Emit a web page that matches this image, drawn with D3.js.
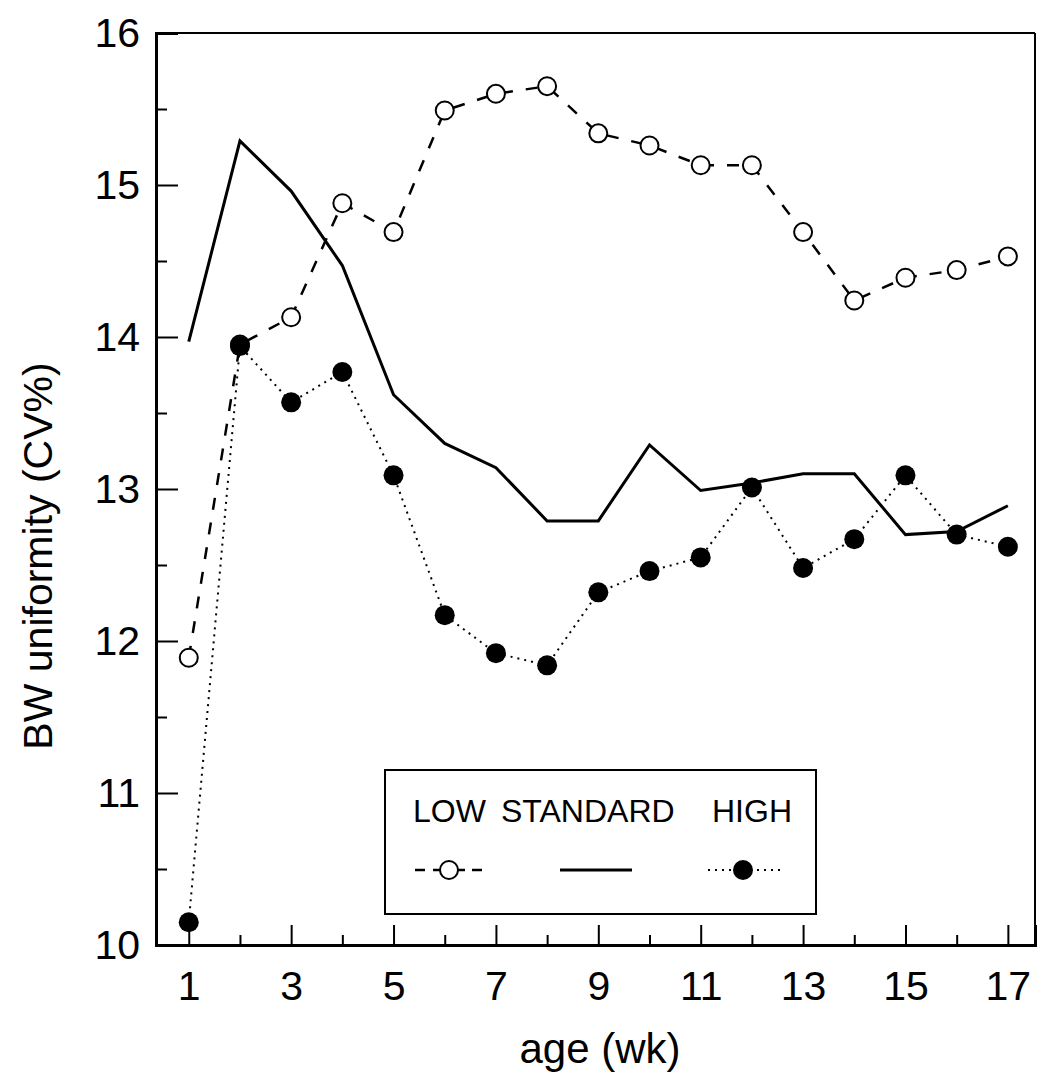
<!DOCTYPE html>
<html lang="en">
<head>
<meta charset="UTF-8">
<title>BW uniformity by age</title>
<script src="https://cdn.jsdelivr.net/npm/d3@7"></script>
<style>
  body { margin: 0; background: #fff; }
  svg text { font-family: "Liberation Sans", Arial, sans-serif; fill: #000; }
</style>
</head>
<body>
<script>
// data
const weeks = [1, 2, 3, 4, 5, 6, 7, 8, 9, 10, 11, 12, 13, 14, 15, 16, 17];
const lowCV = [11.89, 13.95, 14.13, 14.88, 14.69, 15.49, 15.60, 15.65, 15.34, 15.26, 15.13, 15.13, 14.69, 14.24, 14.39, 14.44, 14.53];
const standardCV = [13.97, 15.29, 14.96, 14.47, 13.62, 13.30, 13.14, 12.79, 12.79, 13.29, 12.99, 13.04, 13.10, 13.10, 12.70, 12.72, 12.89];
const highCV = [10.15, 13.94, 13.57, 13.77, 13.09, 12.17, 11.92, 11.84, 12.32, 12.46, 12.55, 13.01, 12.48, 12.67, 13.09, 12.70, 12.62];
const seriesNames = ["LOW", "STANDARD", "HIGH"];
const xMajorTicks = [1, 3, 5, 7, 9, 11, 13, 15, 17];
const xMinorTicks = [2, 4, 6, 8, 10, 12, 14, 16];
const yMajorTicks = [10, 11, 12, 13, 14, 15, 16];
const yMinorTicks = [10.5, 11.5, 12.5, 13.5, 14.5, 15.5];

const width = 1037, height = 1084;
const plotLeft = 156, plotRight = 1035, plotTop = 33, plotBottom = 945;

const svg = d3.select("body").append("svg")
    .attr("width", width)
    .attr("height", height);

const x = d3.scaleLinear().domain([0.36, 17.53]).range([plotLeft, plotRight]);
const y = d3.scaleLinear().domain([10, 16]).range([plotBottom, plotTop]);

// frame: heavy left/bottom, lighter top/right
svg.append("line").attr("x1", plotLeft).attr("x2", plotRight).attr("y1", plotTop).attr("y2", plotTop)
    .attr("stroke", "#000").attr("stroke-width", 2);
svg.append("line").attr("x1", plotRight).attr("x2", plotRight).attr("y1", plotTop).attr("y2", plotBottom)
    .attr("stroke", "#000").attr("stroke-width", 2);

// x axis, ticks pointing in
const xAxis = svg.append("g")
    .attr("transform", `translate(0,${plotBottom})`)
    .call(d3.axisBottom(x).tickValues(xMajorTicks).tickSize(-20).tickPadding(26).tickFormat(d3.format("d")));
svg.append("g")
    .attr("transform", `translate(0,${plotBottom})`)
    .call(d3.axisBottom(x).tickValues(xMinorTicks).tickSize(-10).tickFormat(""))
    .call(g => g.select(".domain").remove());

const yAxis = svg.append("g")
    .attr("transform", `translate(${plotLeft},0)`)
    .call(d3.axisLeft(y).tickValues(yMajorTicks).tickSize(-22).tickPadding(16).tickFormat(d3.format("d")));
svg.append("g")
    .attr("transform", `translate(${plotLeft},0)`)
    .call(d3.axisLeft(y).tickValues(yMinorTicks).tickSize(-11).tickFormat(""))
    .call(g => g.select(".domain").remove());

svg.selectAll(".domain").attr("stroke-width", 3);
svg.selectAll(".tick line").attr("stroke-width", 2);
xAxis.selectAll("text").style("font-size", "41px");
yAxis.selectAll("text").style("font-size", "41px");

// axis titles
svg.append("text")
    .attr("x", 600).attr("y", 1063)
    .attr("text-anchor", "middle")
    .style("font-size", "42px")
    .text("age (wk)");

svg.append("text")
    .attr("transform", "translate(52,556) rotate(-90)")
    .attr("text-anchor", "middle")
    .style("font-size", "41px")
    .text("BW uniformity (CV%)");

const line = d3.line().x((d, i) => x(weeks[i])).y(d => y(d));

// LOW: dashed with open circles
svg.append("path").datum(lowCV)
    .attr("d", line).attr("fill", "none").attr("stroke", "#000")
    .attr("stroke-width", 2.5).attr("stroke-dasharray", "12,13");
svg.append("g").selectAll("circle").data(lowCV).join("circle")
    .attr("cx", (d, i) => x(weeks[i])).attr("cy", d => y(d)).attr("r", 9)
    .attr("fill", "#fff").attr("stroke", "#000").attr("stroke-width", 2);

// STANDARD: solid, no markers
svg.append("path").datum(standardCV)
    .attr("d", line).attr("fill", "none").attr("stroke", "#000")
    .attr("stroke-width", 3);

// HIGH: dotted with filled circles
svg.append("path").datum(highCV)
    .attr("d", line).attr("fill", "none").attr("stroke", "#000")
    .attr("stroke-width", 2).attr("stroke-dasharray", "2,5");
svg.append("g").selectAll("circle").data(highCV).join("circle")
    .attr("cx", (d, i) => x(weeks[i])).attr("cy", d => y(d)).attr("r", 10)
    .attr("fill", "#000");

// legend
const lg = svg.append("g");
lg.append("rect")
    .attr("x", 385).attr("y", 770).attr("width", 431).attr("height", 144)
    .attr("fill", "#fff").attr("stroke", "#000").attr("stroke-width", 2);

const legendX = [413, 501, 712];
lg.selectAll("text").data(seriesNames).join("text")
    .attr("x", (d, i) => legendX[i]).attr("y", 822)
    .style("font-size", "32px")
    .text(d => d);

const ly = 870;
lg.append("line").attr("x1", 415).attr("x2", 482).attr("y1", ly).attr("y2", ly)
    .attr("stroke", "#000").attr("stroke-width", 2.5).attr("stroke-dasharray", "10,8,32,7,10,60");
lg.append("circle").attr("cx", 449).attr("cy", ly).attr("r", 9)
    .attr("fill", "#fff").attr("stroke", "#000").attr("stroke-width", 2);
lg.append("line").attr("x1", 560).attr("x2", 632).attr("y1", ly).attr("y2", ly)
    .attr("stroke", "#000").attr("stroke-width", 3);
lg.append("line").attr("x1", 708).attr("x2", 780).attr("y1", ly).attr("y2", ly)
    .attr("stroke", "#000").attr("stroke-width", 2).attr("stroke-dasharray", "2,5");
lg.append("circle").attr("cx", 743).attr("cy", ly).attr("r", 10).attr("fill", "#000");
</script>
</body>
</html>
